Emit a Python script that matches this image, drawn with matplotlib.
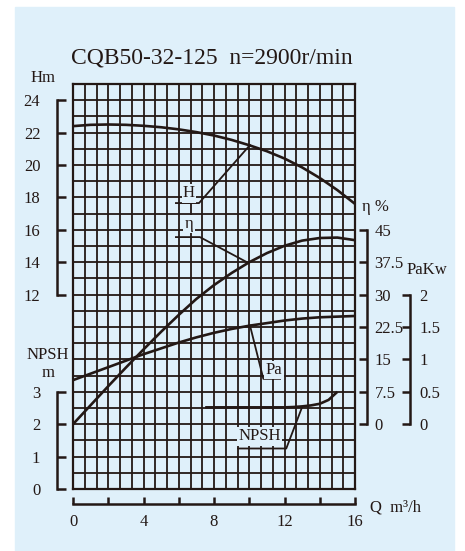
import numpy as np
import matplotlib.pyplot as plt
from matplotlib.patches import Rectangle

plt.rcParams['font.family'] = ['Liberation Serif', 'DejaVu Serif']

# ---- values ----
q = np.arange(0, 17, 1)
head = [22.4, 22.48, 22.5, 22.48, 22.42, 22.33, 22.2, 22.03, 21.82,
        21.55, 21.22, 20.85, 20.4, 19.85, 19.2, 18.45, 17.6]
eff = [0, 4.4, 8.8, 13.1, 17.3, 21.4, 25.3, 29.0, 32.2,
       35.0, 37.5, 39.6, 41.3, 42.5, 43.1, 43.2, 42.6]
power = [0.68, 0.78, 0.88, 0.98, 1.08, 1.17, 1.26, 1.34, 1.41,
         1.47, 1.52, 1.56, 1.60, 1.63, 1.65, 1.66, 1.67]
q_npsh = [7.5, 9, 10, 11, 12, 12.5, 13, 13.5, 14, 14.5, 15]
npsh = [2.52, 2.52, 2.52, 2.52, 2.52, 2.53, 2.55, 2.58, 2.63, 2.75, 3.0]

h_ticks = [12, 14, 16, 18, 20, 22, 24]
npsh_ticks = [0, 1, 2, 3]
eff_ticks = [0, 7.5, 15, 22.5, 30, 37.5, 45]
eff_labels = ['0', '7.5', '15', '22.5', '30', '37.5', '45']
pa_ticks = [0, 0.5, 1, 1.5, 2]
pa_labels = ['0', '0.5', '1', '1.5', '2']
q_ticks = [0, 2, 4, 6, 8, 10, 12, 14, 16]
q_labels = ['0', '', '4', '', '8', '', '12', '', '16']

INK = '#231815'
BG = '#DFF0FA'
W, HP = 465, 551

fig = plt.figure(figsize=(W / 100, HP / 100), dpi=100, facecolor='white')
fig.patches.append(Rectangle((15 / W, 0), (454 - 15) / W, (551 - 7) / HP,
                             transform=fig.transFigure, color=BG, zorder=-5))

# grid area: 24 columns x 25 rows
ax = fig.add_axes([73 / W, (551 - 489) / HP, 282 / W, 405 / HP])
ax.set_facecolor('none')
ax.set_xlim(0, 16)
ax.set_ylim(0, 25)
ax.set_xticks(np.arange(25) * 2 / 3)
ax.set_yticks(np.arange(26))
ax.grid(True, color=INK, lw=1.3)
ax.tick_params(length=0, labelbottom=False, labelleft=False)
for s in ax.spines.values():
    s.set_color(INK)
    s.set_linewidth(1.6)

# curves (rows: H -> H, NPSH -> 2*NPSH, eta -> 4+eta/3.75, Pa -> 4+4*Pa)
kw = dict(color=INK, lw=1.9, solid_capstyle='butt', zorder=5)
ax.plot(q, head, **kw)
ax.plot(q, 4 + np.array(eff) / 3.75, **kw)
ax.plot(q, 4 + 4 * np.array(power), **kw)
ax.plot(q_npsh, 2 * np.array(npsh), **kw)

# label leaders
lk = dict(color=INK, lw=1.3, zorder=5)
ax.plot([5.84, 7.15, 10.04], [17.65, 17.65, 21.23], **lk)
ax.plot([5.84, 7.2, 9.87], [15.55, 15.55, 14.0], **lk)
ax.plot([10.04, 10.8, 11.75], [10.1, 6.8, 6.8], **lk)
ax.plot([9.36, 12.1, 13.0], [2.5, 2.5, 5.06], **lk)
box = dict(facecolor=BG, edgecolor='none', pad=1.0)
tk = dict(color=INK, fontsize=12, ha='center', va='center', zorder=6, bbox=box)
ax.text(6.58, 18.25, 'H', **tk)
ax.text(6.58, 16.35, 'η', **tk)
ax.text(11.4, 7.35, 'Pa', **tk)
ax.text(10.6, 3.25, 'NPSH', **tk)


def bracket(side, pos, lim, bounds, ticks, labels, pad, length):
    b = ax.twinx()
    b.set_ylim(lim)
    for s in b.spines.values():
        s.set_visible(False)
    sp = b.spines[side]
    sp.set_visible(True)
    sp.set_position(('axes', pos))
    sp.set_bounds(*bounds)
    sp.set_color(INK)
    sp.set_linewidth(1.8)
    if side == 'left':
        b.yaxis.set_ticks_position('left')
    b.set_yticks(ticks, labels)
    b.tick_params(direction='in', length=length, width=1.8, pad=pad,
                  labelsize=12, colors=INK)
    return b


bracket('left', -16 / 282, (0, 25), (12, 24), h_ticks,
        [str(t) for t in h_ticks], 12, 6.5)
bracket('left', -16 / 282, (0, 12.5), (0, 3), npsh_ticks,
        [str(t) for t in npsh_ticks], 12, 6.5)
bracket('right', (367 - 73) / 282, (-15, 78.75), (0, 45), eff_ticks,
        eff_labels, 5.5, 6)
bracket('right', (410 - 73) / 282, (-1, 5.25), (0, 2), pa_ticks,
        pa_labels, 7, 6)

bq = ax.twiny()
bq.set_xlim(0, 16)
for s in bq.spines.values():
    s.set_visible(False)
bq.spines['bottom'].set_visible(True)
bq.spines['bottom'].set_position(('axes', -15 / 405))
bq.spines['bottom'].set_color(INK)
bq.spines['bottom'].set_linewidth(1.8)
bq.xaxis.set_ticks_position('bottom')
bq.set_xticks(q_ticks, q_labels)
bq.tick_params(direction='in', length=5, width=1.8, pad=7,
               labelsize=12, colors=INK)

# titles and axis names
ft = dict(color=INK, ha='center', va='center')
fig.text(212 / W, 1 - 58 / HP, 'CQB50-32-125  n=2900r/min', fontsize=17, **ft)
fig.text(43 / W, 1 - 78 / HP, 'Hm', fontsize=12, **ft)
fig.text(48 / W, 1 - 355 / HP, 'NPSH', fontsize=12, **ft)
fig.text(48 / W, 1 - 373 / HP, 'm', fontsize=12, **ft)
fig.text(375 / W, 1 - 207 / HP, 'η %', fontsize=12, **ft)
fig.text(427 / W, 1 - 270 / HP, 'PaKw', fontsize=12, **ft)
fig.text(370 / W, 1 - 507 / HP, 'Q  m³/h', fontsize=12, color=INK,
         ha='left', va='center')

fig.savefig('out.png', dpi=100, facecolor='white')
